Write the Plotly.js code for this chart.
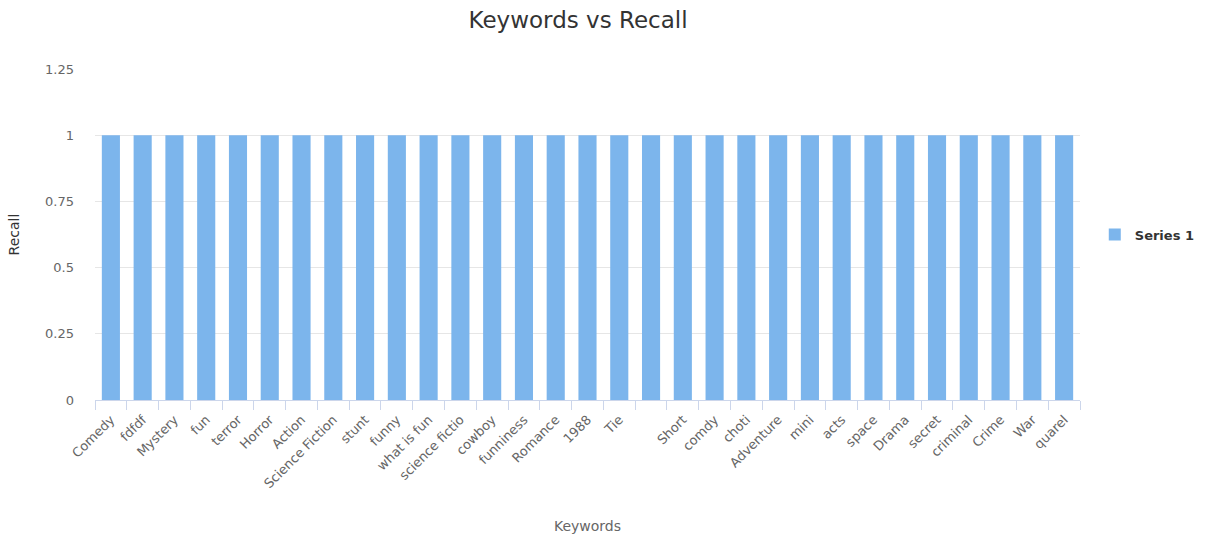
<!DOCTYPE html>
<html>
<head>
<meta charset="utf-8">
<script src="https://cdn.plot.ly/plotly-3.0.1.min.js"></script>
<style>html,body{margin:0;padding:0;background:#fff;}#chart{width:1217px;height:540px;}</style>
</head>
<body>
<div id="chart"></div>
<script>
const categories = ["Comedy", "fdfdf", "Mystery", "fun", "terror", "Horror", "Action", "Science Fiction", "stunt", "funny", "what is fun", "science fictio", "cowboy", "funniness", "Romance", "1988", "Tie", " ", "Short", "comdy", "choti", "Adventure", "mini", "acts", "space", "Drama", "secret", "criminal", "Crime", "War", "quarel"];
const recall = [1, 1, 1, 1, 1, 1, 1, 1, 1, 1, 1, 1, 1, 1, 1, 1, 1, 1, 1, 1, 1, 1, 1, 1, 1, 1, 1, 1, 1, 1, 1];
const yTicks = [0, 0.25, 0.5, 0.75, 1, 1.25];
const yTickLabels = ["0", "0.25", "0.5", "0.75", "1", "1.25"];

const font = "DejaVu Sans, Verdana, sans-serif";
const trace = {
  type: "bar",
  name: "Series 1",
  x: categories,
  y: recall,
  marker: {color: "#7cb5ec"},
  hoverinfo: "x+y"
};
const layout = {
  width: 1217, height: 540,
  margin: {l: 95, r: 137, t: 69, b: 140},
  paper_bgcolor: "#fff", plot_bgcolor: "#fff",
  font: {family: font, color: "#666", size: 12},
  title: {text: "Keywords vs Recall", font: {family: font, size: 23, color: "#333"}, xref: "container", x: 0.475, xanchor: "center", y: 0.963, yanchor: "middle"},
  bargap: 0.43,
  showlegend: true,
  legend: {x: 1.015, xanchor: "left", y: 0.5, yanchor: "middle", font: {family: font, size: 13, color: "#333", weight: "bold"}, itemwidth: 30},
  xaxis: {
    type: "category",
    tickson: "boundaries",
    ticks: "outside", ticklen: 9, tickcolor: "#ccd6eb", tickwidth: 1,
    showline: true, linecolor: "#ccd6eb", linewidth: 1,
    showgrid: false,
    tickangle: -45,
    ticklabelstandoff: 6,
    tickfont: {family: font, size: 13, color: "#666"},
    title: {text: "Keywords", font: {family: font, size: 14, color: "#666"}, standoff: 30},
    automargin: false
  },
  yaxis: {
    range: [0, 1.25],
    tickvals: yTicks, ticktext: yTickLabels,
    showgrid: true, gridcolor: "#e6e6e6", gridwidth: 1,
    zeroline: false, showline: false,
    ticks: "", tickfont: {family: font, size: 13, color: "#666"},
    ticklabelstandoff: 20,
    title: {text: "Recall", font: {family: font, size: 14, color: "#333"}, standoff: 22},
    automargin: false
  }
};
Plotly.newPlot("chart", [trace], layout, {displayModeBar: false, responsive: false});
</script>
</body>
</html>
